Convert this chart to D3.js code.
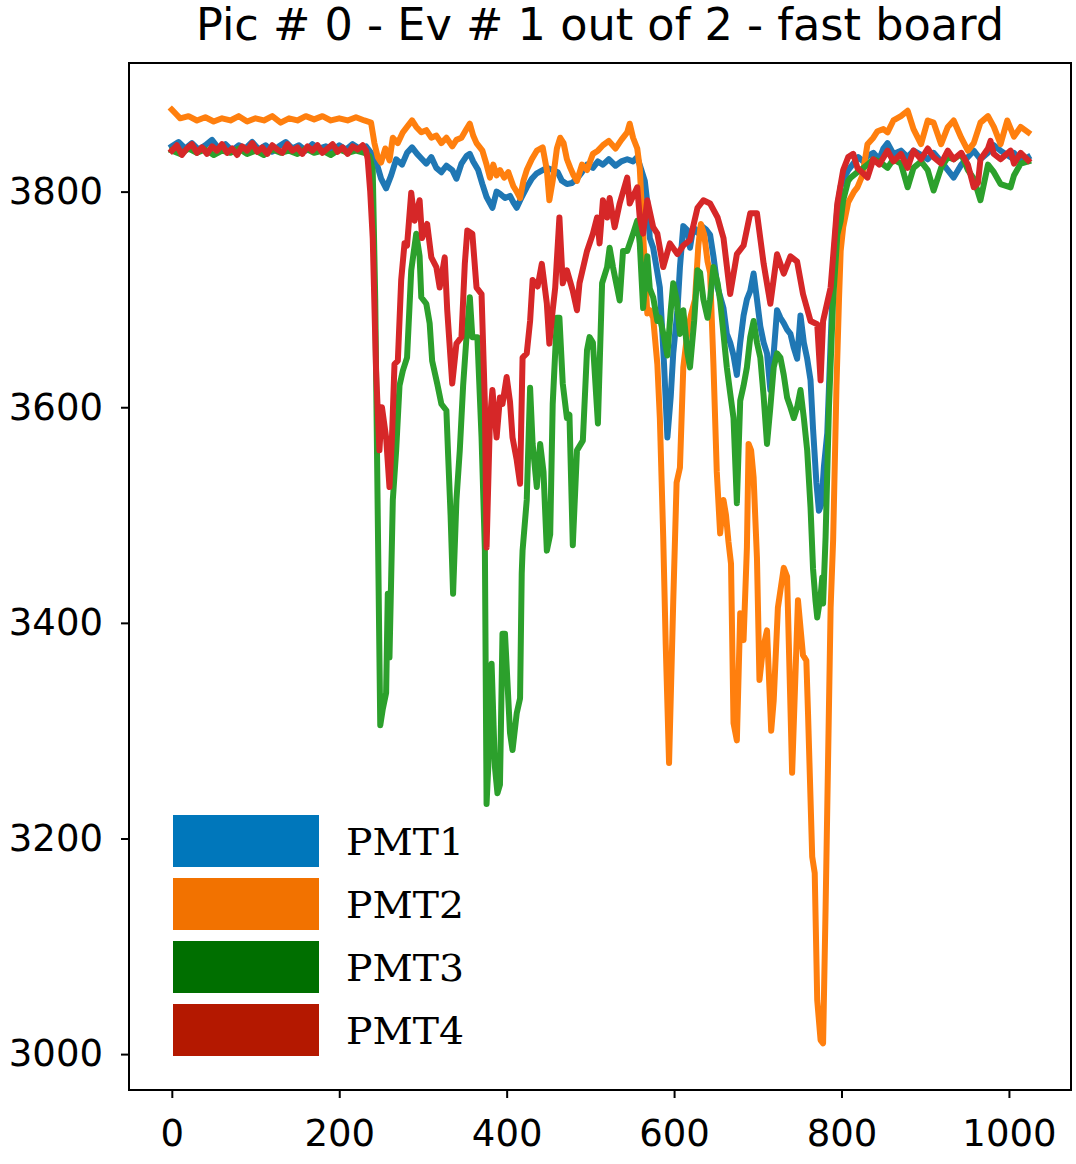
<!DOCTYPE html>
<html>
<head>
<meta charset="utf-8">
<script src="https://cdn.jsdelivr.net/npm/d3@7"></script>
<style>
  body { margin: 0; background: #fff; }
  svg { display: block; }
</style>
</head>
<body>
<svg id="chart" width="1076" height="1164"></svg>
<script>
// values (sample index, ADC counts)
const pmt1 = [[0,3842],[8,3846],[16,3840],[24,3845],[32,3839],[40,3843],[48,3848],[56,3840],[64,3844],[72,3838],[80,3843],[88,3840],[96,3846],[104,3839],[112,3843],[120,3837],[128,3842],[136,3846],[144,3840],[152,3843],[160,3838],[168,3844],[176,3840],[184,3842],[192,3838],[200,3843],[208,3839],[216,3844],[224,3840],[232,3842],[238,3836],[244,3828],[250,3812],[256,3803],[262,3815],[268,3830],[275,3825],[281,3836],[287,3841],[293,3835],[299,3830],[304,3826],[310,3832],[316,3822],[322,3818],[328,3824],[335,3820],[340,3812],[346,3826],[352,3833],[356,3835],[360,3828],[366,3820],[371,3807],[376,3795],[383,3785],[388,3800],[392,3798],[398,3794],[404,3796],[408,3790],[412,3785],[418,3795],[424,3804],[430,3812],[436,3817],[443,3820],[448,3822],[455,3820],[461,3818],[466,3810],[472,3807],[478,3808],[484,3812],[490,3818],[496,3825],[503,3822],[509,3828],[515,3825],[522,3830],[530,3824],[537,3828],[544,3830],[551,3828],[556,3832],[561,3820],[565,3810],[568,3790],[571,3757],[575,3748],[580,3725],[583,3711],[588,3640],[592,3572],[596,3610],[599,3650],[604,3690],[607,3730],[611,3768],[616,3764],[619,3748],[623,3767],[628,3762],[633,3768],[638,3765],[643,3760],[647,3740],[652,3711],[656,3700],[659,3692],[663,3668],[667,3660],[671,3648],[675,3630],[679,3660],[683,3685],[687,3700],[691,3708],[695,3724],[699,3700],[703,3675],[707,3660],[711,3650],[715,3616],[719,3650],[723,3690],[727,3683],[731,3678],[735,3672],[739,3668],[743,3655],[747,3645],[751,3685],[755,3660],[759,3645],[763,3625],[766,3580],[770,3530],[773,3504],[776,3510],[779,3545],[783,3576],[787,3660],[791,3740],[795,3785],[799,3805],[803,3812],[808,3820],[814,3826],[820,3832],[826,3828],[831,3833],[838,3836],[845,3830],[850,3840],[855,3845],[862,3835],[871,3838],[879,3832],[886,3838],[895,3834],[903,3830],[910,3836],[919,3828],[927,3820],[934,3813],[943,3825],[951,3832],[958,3838],[966,3830],[975,3836],[982,3843],[990,3838],[1002,3832],[1006,3836],[1014,3828],[1023,3832]]

const pmt2 = [[0,3876],[5,3872],[10,3868],[20,3870],[30,3866],[40,3869],[50,3865],[60,3868],[70,3866],[80,3870],[90,3865],[100,3868],[110,3866],[120,3870],[130,3864],[140,3868],[150,3866],[160,3870],[170,3867],[180,3870],[190,3866],[200,3868],[210,3866],[220,3869],[230,3866],[238,3864],[242,3845],[246,3832],[250,3827],[255,3840],[260,3829],[264,3850],[270,3845],[276,3855],[281,3860],[287,3866],[292,3860],[298,3855],[304,3857],[310,3850],[316,3852],[322,3845],[328,3850],[335,3842],[340,3848],[346,3850],[352,3858],[356,3863],[360,3852],[364,3845],[371,3838],[376,3825],[380,3813],[384,3825],[388,3815],[392,3820],[397,3813],[402,3818],[408,3805],[412,3800],[416,3794],[420,3810],[424,3820],[430,3830],[436,3838],[443,3841],[448,3820],[451,3792],[455,3810],[460,3840],[464,3850],[468,3845],[472,3830],[476,3822],[480,3815],[484,3810],[490,3825],[496,3820],[503,3835],[509,3838],[515,3843],[522,3847],[530,3840],[537,3848],[544,3855],[547,3863],[551,3850],[556,3840],[559,3822],[563,3761],[568,3687],[571,3690],[575,3683],[580,3640],[583,3590],[587,3480],[590,3380],[594,3270],[599,3420],[603,3530],[607,3544],[611,3637],[616,3670],[620,3685],[625,3700],[629,3750],[632,3770],[636,3760],[640,3735],[643,3725],[647,3640],[651,3540],[655,3483],[659,3514],[662,3500],[665,3475],[668,3455],[671,3307],[675,3291],[679,3409],[683,3384],[687,3470],[689,3566],[692,3560],[695,3535],[699,3460],[702,3347],[706,3375],[711,3393],[716,3300],[719,3328],[724,3414],[731,3451],[735,3443],[741,3261],[748,3421],[754,3370],[758,3365],[760,3316],[765,3183],[768,3168],[771,3050],[775,3013],[778,3010],[781,3136],[787,3414],[790,3477],[794,3620],[797,3700],[799,3745],[802,3767],[808,3790],[815,3800],[819,3804],[825,3815],[831,3844],[838,3850],[843,3856],[850,3858],[855,3855],[862,3866],[871,3870],[879,3875],[886,3858],[895,3844],[903,3866],[910,3864],[919,3844],[927,3860],[934,3866],[943,3850],[951,3838],[958,3845],[966,3864],[975,3870],[982,3860],[990,3844],[998,3866],[1006,3851],[1014,3860],[1023,3855]]

const pmt3 = [[0,3838],[10,3835],[20,3840],[30,3836],[40,3839],[50,3834],[60,3838],[70,3836],[80,3840],[90,3835],[100,3838],[110,3834],[120,3839],[130,3836],[140,3838],[150,3835],[160,3840],[170,3836],[180,3838],[190,3834],[200,3839],[210,3836],[220,3838],[230,3836],[236,3833],[240,3820],[243,3700],[246,3500],[249,3305],[252,3320],[256,3335],[258,3427],[260,3368],[262,3440],[264,3514],[268,3560],[272,3620],[276,3634],[281,3646],[286,3727],[292,3761],[296,3740],[298,3702],[304,3696],[308,3678],[311,3643],[317,3622],[322,3603],[328,3597],[330,3557],[333,3500],[336,3427],[340,3514],[344,3560],[348,3620],[352,3665],[356,3702],[359,3665],[365,3665],[370,3572],[374,3467],[376,3232],[380,3300],[382,3362],[386,3266],[389,3242],[392,3250],[395,3390],[398,3390],[404,3298],[407,3282],[412,3316],[416,3330],[418,3446],[419,3467],[424,3514],[428,3618],[431,3566],[436,3526],[440,3566],[444,3540],[448,3467],[452,3482],[455,3603],[460,3683],[463,3683],[467,3622],[472,3590],[475,3593],[479,3472],[484,3560],[491,3569],[496,3653],[499,3665],[503,3660],[509,3585],[514,3715],[520,3730],[523,3748],[527,3730],[535,3699],[539,3745],[544,3745],[551,3761],[556,3773],[559,3752],[563,3692],[568,3740],[571,3710],[575,3702],[580,3680],[583,3683],[588,3665],[592,3648],[596,3690],[599,3715],[603,3700],[607,3668],[611,3690],[616,3650],[619,3637],[624,3680],[628,3727],[631,3725],[635,3700],[640,3683],[643,3700],[647,3730],[652,3715],[655,3699],[659,3668],[663,3637],[667,3613],[671,3590],[675,3511],[679,3606],[683,3620],[687,3637],[691,3665],[695,3680],[699,3660],[703,3646],[707,3610],[711,3566],[715,3600],[719,3637],[723,3650],[727,3646],[731,3630],[735,3609],[739,3600],[743,3590],[747,3600],[751,3616],[755,3590],[759,3560],[763,3507],[766,3450],[769,3420],[771,3405],[775,3425],[777,3442],[778,3418],[781,3480],[785,3600],[790,3700],[795,3760],[799,3773],[802,3792],[808,3810],[811,3813],[819,3818],[826,3822],[831,3825],[838,3830],[845,3828],[855,3822],[862,3830],[871,3826],[879,3804],[886,3822],[895,3828],[903,3820],[910,3801],[919,3822],[927,3832],[934,3830],[943,3835],[951,3820],[958,3812],[966,3792],[975,3825],[982,3818],[990,3807],[1002,3804],[1006,3815],[1014,3826],[1023,3828]]

const pmt4 = [[0,3838],[6,3843],[12,3834],[18,3840],[24,3844],[30,3836],[36,3841],[42,3835],[48,3842],[54,3838],[60,3844],[66,3836],[72,3840],[78,3834],[84,3842],[90,3838],[96,3845],[102,3837],[108,3841],[114,3835],[120,3843],[126,3839],[132,3836],[138,3844],[144,3838],[150,3841],[156,3835],[162,3842],[168,3838],[174,3843],[180,3836],[186,3840],[192,3844],[198,3837],[204,3841],[210,3835],[216,3842],[222,3839],[228,3843],[232,3838],[234,3830],[237,3800],[240,3757],[244,3634],[248,3560],[251,3600],[256,3572],[260,3526],[263,3572],[266,3640],[270,3643],[274,3718],[278,3752],[281,3750],[286,3799],[290,3773],[296,3792],[299,3757],[305,3770],[310,3739],[316,3730],[320,3711],[326,3739],[329,3690],[335,3622],[340,3659],[346,3665],[350,3733],[353,3764],[359,3761],[364,3711],[370,3705],[374,3603],[376,3470],[380,3588],[383,3616],[388,3572],[392,3609],[395,3603],[400,3628],[404,3605],[407,3572],[412,3551],[416,3529],[419,3646],[424,3650],[428,3680],[431,3718],[437,3712],[442,3733],[448,3696],[451,3659],[455,3690],[458,3711],[463,3776],[467,3715],[472,3727],[479,3708],[484,3690],[487,3715],[496,3745],[503,3761],[508,3776],[511,3752],[515,3792],[520,3776],[523,3794],[529,3767],[535,3789],[544,3813],[547,3789],[556,3804],[559,3776],[563,3761],[568,3792],[575,3767],[580,3761],[587,3730],[595,3752],[604,3742],[611,3750],[619,3755],[628,3785],[635,3792],[643,3789],[652,3776],[659,3757],[667,3705],[675,3742],[683,3750],[691,3780],[699,3780],[707,3733],[715,3696],[723,3742],[731,3724],[739,3740],[747,3735],[754,3705],[763,3680],[771,3677],[775,3625],[778,3680],[787,3711],[790,3740],[795,3789],[802,3820],[808,3832],[814,3835],[819,3822],[831,3813],[838,3830],[845,3825],[855,3838],[862,3828],[871,3835],[879,3822],[886,3838],[895,3830],[903,3840],[910,3832],[919,3826],[927,3838],[934,3830],[943,3836],[951,3825],[958,3804],[963,3808],[966,3830],[975,3840],[978,3847],[982,3835],[990,3830],[1002,3838],[1006,3826],[1014,3836],[1023,3829]]

const seriesNames = ["PMT1", "PMT2", "PMT3", "PMT4"]
const lineColors = ["#1f77b4", "#ff7f0e", "#2ca02c", "#d62728"]
const legendColors = ["#0077bb", "#f27200", "#006f00", "#b41800"]
const xTicks = [0, 200, 400, 600, 800, 1000]
const yTicks = [3000, 3200, 3400, 3600, 3800]
const titleText = "Pic # 0 - Ev # 1 out of 2 - fast board"

const allSeries = [pmt1, pmt2, pmt3, pmt4]

svg = d3.select("#chart")
left = 129; right = 1071; top_ = 63; bottom = 1090

svg.append("rect").attr("width", 1076).attr("height", 1164).attr("fill", "#fff")

// matplotlib style 5% margins around data
allPts = allSeries.flat()
xMin = d3.min(allPts, d => d[0]); xMax = d3.max(allPts, d => d[0])
yMin = d3.min(allPts, d => d[1]); yMax = d3.max(allPts, d => d[1])
xPad = (xMax - xMin) * 0.05
yPad = (yMax - yMin) * 0.05

xScale = d3.scaleLinear().domain([xMin - xPad, xMax + xPad]).range([left, right])
yScale = d3.scaleLinear().domain([yMin - yPad, yMax + yPad]).range([bottom, top_])

svg.append("defs").append("clipPath").attr("id", "clip")
    .append("rect").attr("x", left).attr("y", top_)
    .attr("width", right - left).attr("height", bottom - top_)

line = d3.line().x(d => xScale(d[0])).y(d => yScale(d[1]))

plot = svg.append("g").attr("clip-path", "url(#clip)")
allSeries.forEach((s, i) => {
    plot.append("path")
        .attr("d", line(s))
        .attr("fill", "none")
        .attr("stroke", lineColors[i])
        .attr("stroke-width", 6)
        .attr("stroke-linejoin", "round")
        .attr("stroke-linecap", "square")
})

// axes
xAxis = svg.append("g")
    .attr("transform", `translate(0,${bottom})`)
    .call(d3.axisBottom(xScale).tickValues(xTicks).tickSize(8).tickPadding(22).tickFormat(d3.format("d")))
yAxis = svg.append("g")
    .attr("transform", `translate(${left},0)`)
    .call(d3.axisLeft(yScale).tickValues(yTicks).tickSize(8).tickPadding(18).tickFormat(d3.format("d")))

svg.selectAll(".domain").remove()
svg.selectAll(".tick line").attr("stroke", "#000").attr("stroke-width", 2)
svg.selectAll(".tick text")
    .attr("fill", "#000")
    .style("font-family", "DejaVu Sans")
    .style("font-size", "37px")

svg.append("rect")
    .attr("x", left).attr("y", top_)
    .attr("width", right - left).attr("height", bottom - top_)
    .attr("fill", "none").attr("stroke", "#000").attr("stroke-width", 2)

svg.append("text")
    .attr("x", (left + right) / 2)
    .attr("y", 40)
    .attr("text-anchor", "middle")
    .style("font-family", "DejaVu Sans")
    .style("font-size", "44.6px")
    .text(titleText)

// legend
legend = svg.append("g")
seriesNames.forEach((name, i) => {
    cy = 841 + i * 63
    legend.append("rect")
        .attr("x", 173).attr("y", cy - 26)
        .attr("width", 146).attr("height", 52)
        .attr("fill", legendColors[i])
    legend.append("text")
        .attr("x", 346).attr("y", cy + 14)
        .attr("textLength", 118).attr("lengthAdjust", "spacingAndGlyphs")
        .style("font-family", "DejaVu Serif")
        .style("font-size", "38px")
        .text(name)
})
</script>
</body>
</html>
